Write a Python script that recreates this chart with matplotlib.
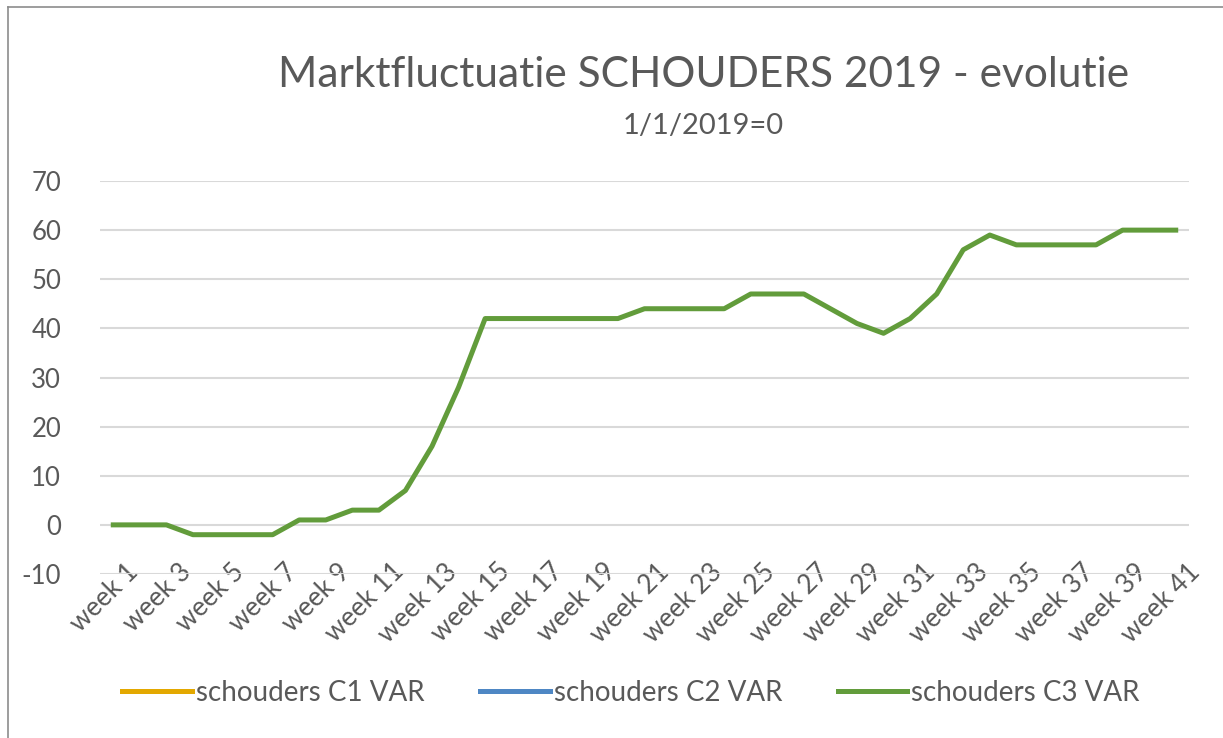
import numpy as np
import matplotlib.pyplot as plt
from matplotlib.lines import Line2D
from matplotlib import transforms

# ------------------------------------------------------------------------
weeks = ['week %d' % i for i in range(1, 42)]
c1_var = []   # geen waarden zichtbaar
c2_var = []   # geen waarden zichtbaar
c3_var = [0, 0, 0, -2, -2, -2, -2, 1, 1, 3,
          3, 7, 16, 28, 42, 42, 42, 42, 42, 42,
          44, 44, 44, 44, 47, 47, 47, 44, 41, 39,
          42, 47, 56, 59, 57, 57, 57, 57, 60, 60,
          60]
series_names = ['schouders C1 VAR', 'schouders C2 VAR', 'schouders C3 VAR']
colors = ['#E3A800', '#4E87C4', '#629C3B']
y_ticks = list(range(-10, 80, 10))
# ------------------------------------------------------------------------
plt.rcParams['font.family'] = ['Lato', 'DejaVu Sans']
txt = '#595959'

fig = plt.figure(figsize=(12.23, 7.38), dpi=100)
ax = fig.add_axes([100 / 1223, 1 - 574 / 738, 1089 / 1223, 393 / 738])

x = np.arange(1, len(weeks) + 1)
ax.plot(x[:len(c1_var)], c1_var, color=colors[0], lw=3.6)
ax.plot(x[:len(c2_var)], c2_var, color=colors[1], lw=3.6)
ax.plot(x, c3_var, color=colors[2], lw=3.6, zorder=3)

ax.set_xlim(0.5, len(weeks) + 0.5)
ax.set_ylim(-10, 70)
ax.set_yticks(y_ticks)
ax.set_yticklabels([str(v) for v in y_ticks], fontsize=18.5, color=txt)
ax.grid(axis='y', color='#d9d9d9', lw=1.5)
ax.set_axisbelow(True)
for s in ax.spines.values():
    s.set_visible(False)
ax.tick_params(axis='y', length=0, pad=28)
ax.tick_params(axis='x', length=0, pad=0)

# labels onder 45 graden, om de week
ax.set_xticks(x[::2])
ax.set_xticklabels(weeks[::2], rotation=45, ha='right', va='top',
                   rotation_mode='anchor', fontsize=19, color=txt)
shift = transforms.ScaledTranslation(0.12, 0.15, fig.dpi_scale_trans)
for lab in ax.get_xticklabels():
    lab.set_transform(lab.get_transform() + shift)

fig.text(0.575, 1 - 75 / 738, 'Marktfluctuatie SCHOUDERS 2019 - evolutie',
         ha='center', va='center', fontsize=30.5, color=txt)
fig.text(0.575, 1 - 126 / 738, '1/1/2019=0', ha='center', va='center',
         fontsize=21, color=txt)

handles = [Line2D([], [], color=c, lw=3.6) for c in colors]
fig.legend(handles, series_names, loc='center', bbox_to_anchor=(0.516, 1 - 693 / 738),
           ncol=3, frameon=False, fontsize=20, handlelength=2.5, handletextpad=0.15,
           columnspacing=2.0, labelcolor=txt)

# kader van de grafiek
fig.add_artist(Line2D([8 / 1223, 8 / 1223], [0, 1 - 7 / 738], color='#8c8c8c', lw=1.2))
fig.add_artist(Line2D([8 / 1223, 1], [1 - 7 / 738, 1 - 7 / 738], color='#8c8c8c', lw=1.2))

fig.savefig('out.png', dpi=100)
